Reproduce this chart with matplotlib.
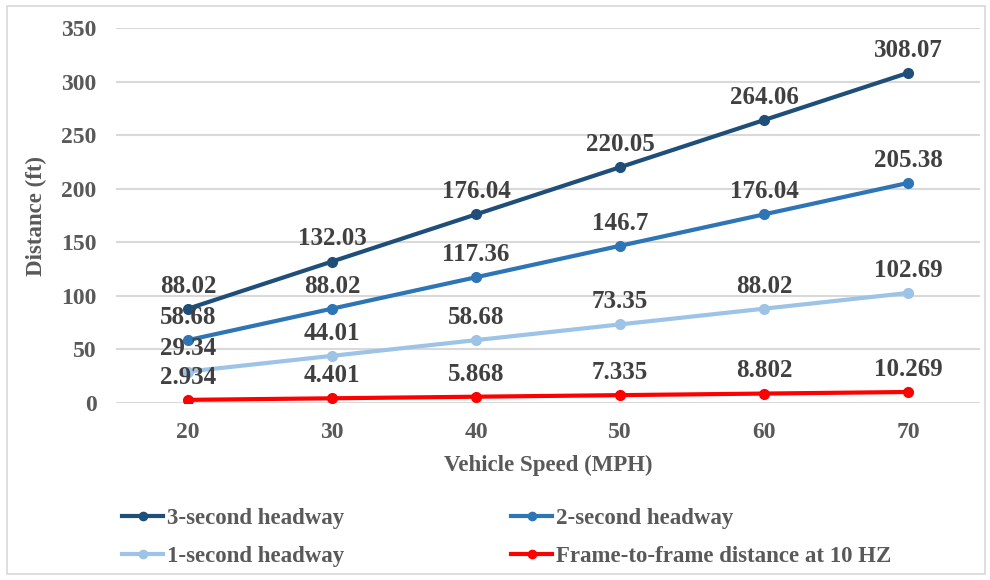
import matplotlib
matplotlib.use("Agg")
import matplotlib.pyplot as plt
from matplotlib.patches import Rectangle

speeds = ["20", "30", "40", "50", "60", "70"]
three_sec = [88.02, 132.03, 176.04, 220.05, 264.06, 308.07]
two_sec = [58.68, 88.02, 117.36, 146.7, 176.04, 205.38]
one_sec = [29.34, 44.01, 58.68, 73.35, 88.02, 102.69]
frame = [2.934, 4.401, 5.868, 7.335, 8.802, 10.269]
three_lbl = ["88.02", "132.03", "176.04", "220.05", "264.06", "308.07"]
two_lbl = ["58.68", "88.02", "117.36", "146.7", "176.04", "205.38"]
one_lbl = ["29.34", "44.01", "58.68", "73.35", "88.02", "102.69"]
frame_lbl = ["2.934", "4.401", "5.868", "7.335", "8.802", "10.269"]
y_ticks = [0, 50, 100, 150, 200, 250, 300, 350]

plt.rcParams['font.family'] = ['Liberation Serif', 'DejaVu Serif']
plt.rcParams['font.weight'] = 'bold'

W, H = 990, 580
fig = plt.figure(figsize=(9.9, 5.8), dpi=100)
ax = fig.add_axes([116 / W, 1 - 403 / H, (980 - 116) / W, (403 - 28) / H])

fig.patches.append(Rectangle((7 / W, 6 / H), (985 - 7) / W, (574 - 6) / H,
                             transform=fig.transFigure, fill=False,
                             edgecolor='#D9D9D9', linewidth=1.2))

gray = '#595959'
lblc = '#404040'
x = list(range(len(speeds)))
series = [
    (three_sec, three_lbl, '#1F4E79', '3-second headway'),
    (two_sec, two_lbl, '#2E75B6', '2-second headway'),
    (one_sec, one_lbl, '#9DC3E6', '1-second headway'),
    (frame, frame_lbl, '#FF0000', 'Frame-to-frame distance at 10 HZ'),
]
handles = []
for vals, lbls, col, name in series:
    h, = ax.plot(x, vals, color=col, linewidth=3, marker='o', markersize=7,
                 label=name, zorder=3)
    handles.append(h)
    for xi, v, t in zip(x, vals, lbls):
        ax.annotate(t, (xi, v), xytext=(0, 8), textcoords='offset points',
                    ha='center', va='bottom', fontsize=18, fontweight='bold',
                    color=lblc, zorder=4)

ax.set_xlim(-0.5, len(speeds) - 0.5)
ax.set_ylim(0, 350)
ax.set_yticks(y_ticks)
ax.set_xticks(x)
ax.set_xticklabels(speeds)
ax.grid(axis='y', color='#D9D9D9', linewidth=1.5)
ax.set_axisbelow(True)
for s in ax.spines.values():
    s.set_visible(False)
ax.tick_params(axis='both', length=0, labelsize=17, labelcolor=gray)
ax.tick_params(axis='y', pad=14)
ax.tick_params(axis='x', pad=14)
ax.set_xlabel('Vehicle Speed (MPH)', fontsize=16.5, fontweight='bold', color=gray, labelpad=8)
ax.set_ylabel('Distance (ft)', fontsize=16.5, fontweight='bold', color=gray, labelpad=10)

leg = fig.legend(handles=[handles[0], handles[2], handles[1], handles[3]], ncol=2,
                 loc='upper left', bbox_to_anchor=(122 / W, 1 - 508 / H),
                 frameon=False, fontsize=16.5, handlelength=1.8, handletextpad=0.15,
                 columnspacing=7.3, labelspacing=0.75, markerscale=0.85,
                 borderpad=0, borderaxespad=0)
for t in leg.get_texts():
    t.set_color(gray)
    t.set_fontweight('bold')

fig.savefig('out.png', dpi=100)
